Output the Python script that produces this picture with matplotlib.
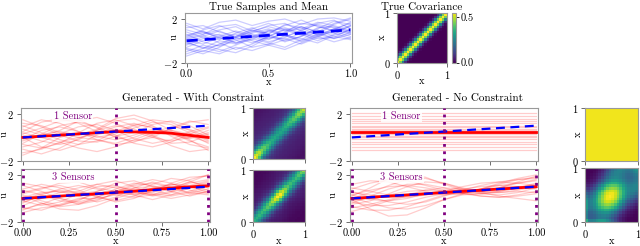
import numpy as np
import matplotlib
matplotlib.use("Agg")
import matplotlib.pyplot as plt

plt.rcParams['font.family'] = 'serif'
plt.rcParams['font.serif'] = ['cmr10']
plt.rcParams['mathtext.fontset'] = 'cm'
plt.rcParams['axes.formatter.use_mathtext'] = True
plt.rcParams['font.size'] = 7.5

# knots along x for every sample curve
x_knots = [0.0, 0.1, 0.2, 0.3, 0.4, 0.5, 0.6, 0.7, 0.8, 0.9, 1.0]

true_mean = [0.0, 0.1, 0.2, 0.3, 0.4, 0.5, 0.6, 0.7, 0.8, 0.9, 1.0]
true_samples = [
    [0.3, 0.8, 0.5, -0.2, 0.1, 0.9, 1.2, 0.7, 0.4, 1.1, 1.6],
    [-0.8, -1.2, -0.6, 0.2, 0.4, -0.1, 0.3, 1.0, 1.5, 1.2, 0.7],
    [1.0, 0.6, 1.3, 1.5, 0.9, 0.7, 1.4, 1.9, 1.3, 0.9, 1.4],
    [-0.4, 0.2, 0.6, 0.1, -0.6, -0.3, 0.5, 0.2, -0.2, 0.5, 1.0],
    [0.6, -0.1, -0.5, 0.0, 0.7, 1.1, 0.6, 0.0, 0.6, 1.5, 2.0],
    [-1.2, -0.7, 0.0, -0.3, 0.3, 0.9, 0.4, 0.9, 1.6, 1.9, 1.1],
    [0.1, 0.5, -0.2, -0.8, -0.3, 0.4, 1.0, 1.3, 0.8, 0.2, 0.6],
    [1.2, 1.4, 0.8, 0.4, 1.1, 1.6, 1.0, 0.5, 1.1, 1.8, 1.5],
    [-0.2, -0.6, -1.0, -0.4, 0.2, -0.2, -0.6, 0.1, 0.9, 0.7, 0.2],
    [0.4, 1.0, 1.4, 0.8, 0.3, 0.6, 1.5, 1.2, 0.5, 0.8, 1.3],
    [-0.6, 0.0, 0.4, 0.9, 0.5, 0.1, 0.8, 1.6, 1.4, 0.9, 0.4],
    [0.8, 0.3, 0.1, 0.7, 1.2, 0.6, 0.0, 0.4, 1.2, 1.3, 0.8],
    [-1.0, -0.4, -0.8, -1.1, -0.5, 0.3, 0.2, -0.3, 0.3, 1.0, 1.7],
    [0.0, -0.3, 0.3, 0.6, 0.0, -0.4, 0.1, 0.7, 0.2, 0.3, 1.1],
    [0.5, 0.9, 0.2, 0.3, 0.9, 1.3, 0.9, 1.1, 1.7, 1.4, 0.9],
    [-0.3, 0.4, 0.9, 0.3, -0.2, 0.4, 1.1, 0.6, 0.0, 0.6, 1.4],
    [1.4, 0.8, 0.3, -0.2, 0.4, 1.0, 0.5, -0.1, 0.5, 1.1, 0.6],
    [-0.7, -1.0, -0.3, 0.4, 1.0, 0.5, -0.1, 0.4, 1.0, 0.4, 0.1],
    [0.2, 0.6, 1.0, 1.3, 0.6, 0.2, 0.7, 1.3, 0.8, 1.6, 2.1],
    [-0.1, -0.7, -0.4, 0.3, 0.8, 1.4, 1.6, 0.9, 0.6, 0.2, 0.8],
    [-1.4, -0.9, -1.2, -0.6, -0.9, -0.4, -0.8, -0.2, 0.4, -0.1, 0.3],
    [1.6, 1.1, 1.7, 1.9, 1.4, 1.8, 2.0, 1.5, 2.0, 2.1, 1.8],
]

# generated, with constraint, 1 sensor
wc1_mean = [0.0, 0.1, 0.2, 0.3, 0.4, 0.5, 0.47, 0.43, 0.36, 0.18, 0.0]
wc1_samples = [
    [1.2, 1.0, 0.4, 0.0, 0.3, 0.9, 1.2, 0.8, 0.2, -0.1, 0.3],
    [-0.8, -0.4, 0.3, 0.9, 1.1, 0.6, -0.1, -0.5, -0.2, 0.5, 0.9],
    [0.5, 1.3, 1.6, 1.2, 0.5, 0.1, 0.4, 1.1, 1.4, 1.0, 0.2],
    [-1.3, -1.0, -0.4, 0.0, -0.2, -0.6, -0.4, 0.2, 0.6, 0.3, -0.5],
    [0.2, -0.3, -0.6, -0.2, 0.6, 1.4, 1.6, 1.0, 0.1, -0.6, -0.9],
    [1.5, 0.9, 0.2, -0.3, -0.4, 0.1, 0.8, 1.3, 1.1, 0.4, -0.3],
    [-0.5, 0.3, 1.0, 1.3, 0.9, 0.2, -0.5, -0.8, -0.4, 0.3, 0.8],
    [0.0, -0.8, -1.1, -0.6, 0.2, 0.7, 0.5, 0.0, -0.3, 0.0, 0.6],
    [0.9, 1.5, 1.2, 0.5, 0.0, 0.3, 1.0, 1.5, 1.3, 0.6, -0.2],
    [-1.0, -1.4, -0.9, -0.1, 0.6, 1.0, 0.7, 0.1, -0.7, -1.2, -1.0],
    [0.7, 0.2, 0.6, 1.4, 1.7, 1.2, 0.5, 0.3, 0.7, 1.3, 1.5],
    [-0.2, 0.6, 0.9, 0.5, -0.2, -0.5, 0.0, 0.6, 0.4, -0.3, -0.8],
    [1.0, 0.4, -0.2, -0.6, -0.3, 0.5, 1.1, 0.9, 0.3, 0.0, 0.4],
    [-0.6, -0.9, -0.5, 0.4, 1.2, 1.5, 1.0, 0.2, -0.5, -0.4, 0.2],
    [0.3, 0.8, 1.4, 1.5, 0.8, 0.0, -0.3, 0.0, 0.8, 1.4, 1.1],
    [-1.5, -0.9, 0.0, 0.4, 0.1, -0.2, 0.2, 0.7, 0.5, -0.2, -1.1],
    [0.4, 0.0, -0.4, -0.9, -1.2, -0.8, -0.2, 0.4, 0.9, 0.7, 0.0],
    [-0.3, 0.2, 0.5, 0.2, 0.7, 1.6, 1.9, 1.4, 0.6, 0.1, -0.4],
]

# generated, with constraint, 3 sensors
wc3_mean = [0.0, 0.1, 0.2, 0.3, 0.4, 0.5, 0.62, 0.75, 0.88, 0.98, 1.07]
wc3_samples = [
    [0.8, 1.2, 0.9, 0.4, 0.6, 1.3, 1.5, 1.0, 0.8, 1.4, 2.0],
    [-0.9, -0.5, 0.1, 0.5, 0.2, -0.3, 0.0, 0.7, 1.2, 1.0, 0.5],
    [0.3, -0.2, -0.6, -0.2, 0.6, 1.0, 0.7, 0.3, 0.6, 1.3, 1.6],
    [-0.4, 0.3, 0.8, 1.1, 0.8, 0.3, 0.5, 1.2, 1.7, 1.5, 0.9],
    [1.1, 0.6, 0.0, -0.3, 0.1, 0.6, 1.2, 1.6, 1.3, 0.7, 0.4],
    [-1.2, -0.8, -0.6, -0.1, 0.4, 0.7, 0.3, -0.1, 0.3, 0.9, 1.3],
    [0.5, 0.9, 1.1, 0.7, 0.1, -0.2, 0.2, 0.9, 1.2, 1.1, 1.5],
    [-0.2, -0.6, -0.3, 0.4, 1.0, 1.1, 0.6, 0.2, 0.5, 1.0, 0.7],
    [0.1, 0.5, 0.6, 0.2, -0.3, 0.1, 0.9, 1.4, 1.0, 0.4, 0.8],
    [-0.6, 0.0, 0.5, 0.9, 1.2, 0.9, 0.4, 0.6, 1.3, 1.8, 1.9],
    [0.7, 0.3, -0.2, -0.4, -0.1, 0.4, 0.8, 0.7, 0.3, 0.6, 1.2],
    [-0.3, 0.2, 0.0, -0.5, -0.2, 0.5, 1.1, 1.3, 0.9, 0.5, 0.3],
    [0.4, 0.8, 1.3, 1.4, 0.9, 0.6, 0.9, 1.0, 0.6, 1.0, 1.4],
    [-0.8, -1.0, -0.5, 0.0, 0.0, 0.3, 0.1, 0.3, 0.9, 1.4, 1.1],
    [0.2, -0.4, -0.7, -0.5, 0.1, 0.8, 1.3, 1.1, 0.6, 0.2, 0.6],
    [-0.1, 0.4, 0.7, 0.4, 0.3, 0.5, 0.3, 0.5, 1.1, 1.6, 2.0],
    [1.3, 1.0, 0.5, 0.6, 1.2, 1.5, 1.0, 0.4, 0.2, 0.5, 1.0],
    [-1.0, -0.4, -0.9, -1.0, -0.6, 0.0, 0.5, 0.3, 0.0, 0.3, 0.6],
]

# generated, no constraint, 1 sensor (constant samples)
nc1_mean = [0.5, 0.5, 0.5, 0.5, 0.5, 0.5, 0.5, 0.5, 0.5, 0.5, 0.5]
nc1_levels = [-1.1, -0.8, -0.55, -0.35, -0.15, 0.0, 0.15, 0.3, 0.4, 0.5,
              0.6, 0.7, 0.85, 1.0, 1.2, 1.4, 1.6, 1.85, 2.1]

# generated, no constraint, 3 sensors
nc3_mean = [0.0, 0.1, 0.2, 0.3, 0.4, 0.5, 0.6, 0.7, 0.8, 0.9, 1.0]
nc3_samples = [
    [0.8, 1.3, 1.6, 1.5, 1.1, 0.7, 0.6, 0.8, 1.2, 1.6, 1.8],
    [-0.7, -1.0, -1.0, -0.7, -0.2, 0.3, 0.6, 0.8, 0.9, 1.0, 1.1],
    [0.3, 0.7, 1.0, 1.1, 0.9, 0.6, 0.4, 0.4, 0.6, 0.9, 1.3],
    [-0.3, -0.6, -0.6, -0.3, 0.1, 0.4, 0.4, 0.2, 0.1, 0.3, 0.6],
    [1.2, 1.5, 1.4, 1.0, 0.6, 0.3, 0.4, 0.8, 1.3, 1.7, 2.0],
    [-1.1, -0.7, -0.2, 0.2, 0.4, 0.5, 0.5, 0.6, 0.8, 0.9, 0.9],
    [0.5, 0.3, 0.1, 0.1, 0.3, 0.6, 1.0, 1.3, 1.4, 1.3, 1.1],
    [-0.4, 0.2, 0.8, 1.2, 1.2, 0.9, 0.5, 0.2, 0.1, 0.2, 0.4],
    [0.1, -0.4, -0.8, -0.9, -0.6, -0.1, 0.4, 0.8, 1.1, 1.3, 1.5],
    [0.9, 0.6, 0.3, 0.2, 0.3, 0.5, 0.8, 1.0, 1.1, 1.0, 0.8],
    [-0.8, -0.5, -0.1, 0.3, 0.7, 0.9, 0.8, 0.5, 0.2, 0.0, -0.2],
    [0.0, 0.5, 1.1, 1.6, 1.7, 1.3, 0.8, 0.5, 0.6, 0.9, 1.2],
    [0.6, 0.1, -0.3, -0.5, -0.3, 0.2, 0.7, 1.1, 1.4, 1.6, 1.7],
    [-0.2, 0.0, 0.3, 0.6, 0.7, 0.6, 0.5, 0.6, 0.9, 1.3, 1.6],
    [0.3, -0.1, -0.2, 0.0, 0.4, 0.7, 0.7, 0.4, 0.3, 0.5, 0.9],
    [-0.5, -0.2, 0.4, 1.0, 1.4, 1.3, 0.9, 0.6, 0.5, 0.7, 1.0],
    [0.2, 0.9, 1.7, 2.0, 1.8, 1.2, 0.7, 0.6, 0.9, 1.4, 1.9],
    [-0.1, -0.9, -1.5, -1.4, -0.8, -0.1, 0.3, 0.4, 0.5, 0.6, 0.5],
]

sensors_1 = [0.5]
sensors_3 = [0.0, 0.5, 1.0]

# covariance maps: per-cell std along x and correlation vs. |i-j| (20x20 grid)
true_sd = [0.74] * 20
true_band = [1.0, 0.8, 0.42, 0.13, 0.02, 0.0, 0.0, 0.0, 0.0, 0.0,
             0.0, 0.0, 0.0, 0.0, 0.0, 0.0, 0.0, 0.0, 0.0, 0.0]
wc1_sd = [1.0, 0.97, 0.94, 0.9, 0.87, 0.84, 0.81, 0.79, 0.78, 0.77,
          0.77, 0.78, 0.8, 0.82, 0.84, 0.86, 0.88, 0.9, 0.92, 0.95]
wc1_band = [1.0, 0.92, 0.76, 0.56, 0.38, 0.26, 0.2, 0.17, 0.15, 0.13,
            0.12, 0.11, 0.1, 0.09, 0.08, 0.07, 0.06, 0.05, 0.05, 0.05]
wc3_sd = [0.8, 0.8, 0.81, 0.82, 0.84, 0.86, 0.89, 0.93, 0.97, 1.0,
          1.0, 0.96, 0.91, 0.86, 0.83, 0.82, 0.83, 0.85, 0.88, 0.92]
wc3_band = [1.0, 0.9, 0.72, 0.5, 0.32, 0.2, 0.14, 0.11, 0.09, 0.08,
            0.07, 0.06, 0.05, 0.04, 0.03, 0.03, 0.02, 0.02, 0.02, 0.02]
nc1_sd = [1.0] * 20
nc1_band = [1.0] * 20
nc3_sd = [0.8, 0.55, 0.55, 0.6, 0.7, 0.8, 0.88, 0.95, 0.99, 1.0,
          0.99, 0.95, 0.88, 0.8, 0.7, 0.62, 0.58, 0.6, 0.66, 0.72]
nc3_band = [1.0, 0.99, 0.97, 0.94, 0.9, 0.85, 0.78, 0.7, 0.6, 0.5,
            0.4, 0.3, 0.22, 0.15, 0.1, 0.06, 0.03, 0.02, 0.01, 0.0]

W, H = 640, 246


def px_axes(fig, left, right, top, bottom):
    ax = fig.add_axes([left / W, 1 - bottom / H, (right - left) / W, (bottom - top) / H])
    ax.box_px = (left, right, top, bottom)
    return ax


def place_labels(ax, ylab_x=None, xlab_y=None):
    # ylab_x: right edge of the y label, xlab_y: top edge of the x label (pixels)
    left, right, top, bottom = ax.box_px
    if ylab_x is not None:
        ax.yaxis.set_label_coords((ylab_x - left) / (right - left), 0.5)
    if xlab_y is not None:
        ax.xaxis.set_label_coords(0.5, (bottom - xlab_y) / (bottom - top))


def cov_matrix(sd, band):
    sd = np.asarray(sd)
    idx = np.abs(np.subtract.outer(np.arange(len(sd)), np.arange(len(sd))))
    return np.outer(sd, sd) * np.asarray(band)[idx]


def style(ax):
    for s in ax.spines.values():
        s.set_color('#999999')
        s.set_linewidth(0.8)
    ax.tick_params(length=3, width=0.6, pad=2, color='#555555')


def sample_panel(ax, samples, mean, sensors, label, color, show_x):
    for s in samples:
        ax.plot(x_knots, s, color=color, alpha=0.2, lw=0.9)
    ax.plot(x_knots, mean, color='red', lw=2, zorder=4)
    ax.plot(x_knots, true_mean, color='blue', lw=1.6, ls=(0, (4, 2.5)), zorder=5)
    for xs in sensors:
        ax.axvline(xs, color='purple', ls=':', lw=2, zorder=6)
    ax.text(0.27, 1.8, label, color='purple', ha='center', va='center', fontsize=7.5,
            bbox=dict(facecolor='white', edgecolor='none', alpha=0.85, pad=1), zorder=7)
    ax.set_xlim(-0.01, 1.01)
    ax.set_ylim(-2, 2.5)
    ax.set_yticks([-2, 2])
    ax.set_xticks([0, 0.25, 0.5, 0.75, 1.0])
    ax.set_ylabel('u')
    if show_x:
        ax.set_xticklabels(['0.00', '0.25', '0.50', '0.75', '1.00'])
        ax.set_xlabel('x')
    else:
        ax.set_xticklabels([])
    style(ax)


def cov_panel(ax, mat, show_x, vmax=None):
    ax.imshow(mat, origin='lower', extent=[0, 1, 0, 1], cmap='viridis', aspect='auto',
              vmin=0, vmax=vmax, interpolation='nearest')
    ax.set_xticks([0, 1])
    ax.set_yticks([0, 1])
    ax.set_ylabel('x')
    if show_x:
        ax.set_xlabel('x')
    else:
        ax.set_xticklabels([])
        ax.tick_params(axis='x', length=0)
    style(ax)
    ax.tick_params(pad=1.5)


fig = plt.figure(figsize=(6.4, 2.46), dpi=100)

# top row
ax = px_axes(fig, 185, 352, 12.5, 62.5)
for s in true_samples:
    ax.plot(x_knots, s, color='blue', alpha=0.2, lw=0.9)
ax.plot(x_knots, true_mean, color='blue', lw=2, ls=(0, (4, 2.5)))
ax.set_xlim(-0.01, 1.01)
ax.set_ylim(-2, 2.6)
ax.set_yticks([-2, 2])
ax.set_xticks([0, 0.5, 1.0])
ax.set_xticklabels(['0.0', '0.5', '1.0'])
ax.set_xlabel('x')
ax.set_ylabel('u')
ax.set_title('True Samples and Mean', fontsize=8, pad=2)
style(ax)
place_labels(ax, ylab_x=179, xlab_y=77)

ax = px_axes(fig, 397, 447, 12.5, 62.5)
im = ax.imshow(cov_matrix(true_sd, true_band), origin='lower', extent=[0, 1, 0, 1],
               cmap='viridis', aspect='auto', interpolation='nearest')
ax.set_xticks([0, 1])
ax.set_yticks([0, 1])
ax.set_xlabel('x')
ax.set_ylabel('x')
ax.set_title('True Covariance', fontsize=8, pad=2)
style(ax)
ax.tick_params(pad=1.5)
place_labels(ax, ylab_x=387, xlab_y=76)
cax = px_axes(fig, 452, 456, 12.5, 62.5)
cb = fig.colorbar(im, cax=cax, ticks=[0.0, 0.5])
cb.ax.set_yticklabels(['0.0', '0.5'])
cb.outline.set_edgecolor('#999999')
cb.ax.tick_params(length=2, width=0.6, pad=1.5)

# bottom left group: with constraint
fig.text(193 / W, 1 - 98 / H, 'Generated - With Constraint', ha='center', va='center', fontsize=8)
ax = px_axes(fig, 21, 210, 108, 161)
sample_panel(ax, wc1_samples, wc1_mean, sensors_1, '1 Sensor', 'red', False)
place_labels(ax, ylab_x=9)
ax = px_axes(fig, 21, 210, 169, 222)
sample_panel(ax, wc3_samples, wc3_mean, sensors_3, '3 Sensors', 'red', True)
place_labels(ax, ylab_x=9, xlab_y=237)
ax = px_axes(fig, 253, 305, 108, 159)
cov_panel(ax, cov_matrix(wc1_sd, wc1_band), False)
place_labels(ax, ylab_x=250.5)
ax = px_axes(fig, 253, 305, 170, 222)
cov_panel(ax, cov_matrix(wc3_sd, wc3_band), True)
place_labels(ax, ylab_x=250.5, xlab_y=237)

# bottom right group: no constraint
fig.text(457 / W, 1 - 98 / H, 'Generated - No Constraint', ha='center', va='center', fontsize=8)
ax = px_axes(fig, 350, 538, 108, 161)
nc1_samples = [[lv] * len(x_knots) for lv in nc1_levels]
sample_panel(ax, nc1_samples, nc1_mean, sensors_1, '1 Sensor', 'red', False)
place_labels(ax, ylab_x=338)
ax = px_axes(fig, 350, 538, 169, 222)
sample_panel(ax, nc3_samples, nc3_mean, sensors_3, '3 Sensors', 'red', True)
place_labels(ax, ylab_x=338, xlab_y=237)
ax = px_axes(fig, 585, 638, 108, 161)
cov_panel(ax, cov_matrix(nc1_sd, nc1_band), False, vmax=1.02)
place_labels(ax, ylab_x=583)
ax = px_axes(fig, 585, 638, 168, 222)
cov_panel(ax, cov_matrix(nc3_sd, nc3_band), True)
place_labels(ax, ylab_x=583, xlab_y=237)

fig.savefig('out.png', dpi=100)
